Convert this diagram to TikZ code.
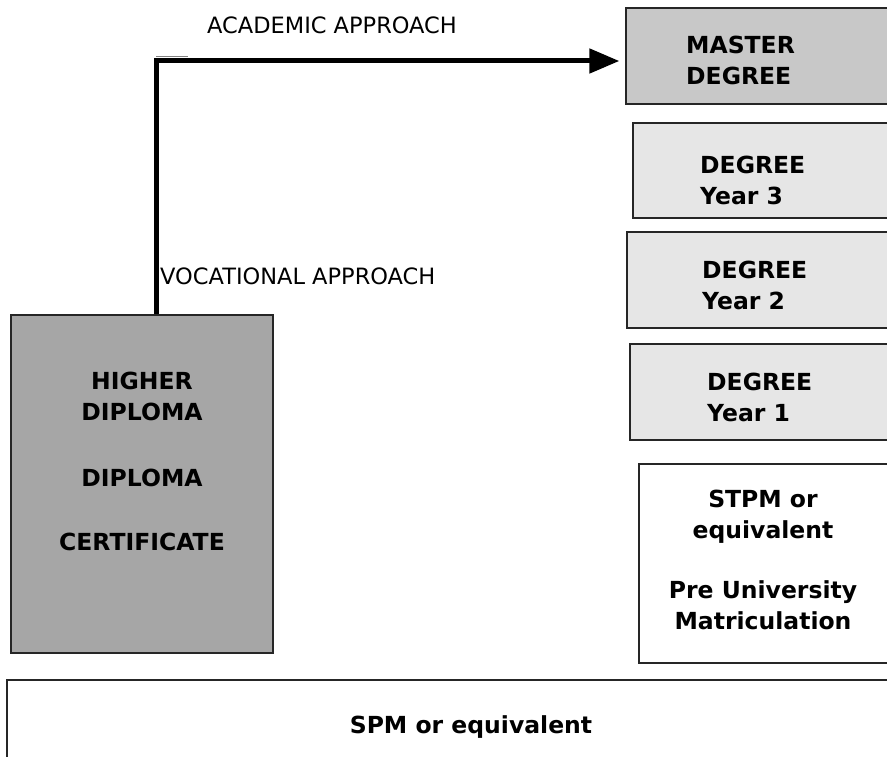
\documentclass[tikz,border=0pt]{standalone}
\usepackage{fontspec}
\setmainfont{DejaVu Sans}
\usetikzlibrary{arrows.meta}
\definecolor{masterfill}{HTML}{C8C8C8}
\definecolor{degreefill}{HTML}{E6E6E6}
\definecolor{diplomafill}{HTML}{A6A6A6}
\begin{document}
\begin{tikzpicture}[x=1pt,y=-1pt,
  box/.style={draw=black!85, line width=1.3pt, rectangle, inner sep=0pt},
  lbl/.style={font=\fontsize{23.5}{31}\selectfont\bfseries, inner sep=0pt},
  note/.style={font=\fontsize{22.5}{26}\selectfont, inner sep=0pt, anchor=west},
]
\useasboundingbox (0,0) rectangle (887,757);

% level boxes
\node[box, fill=masterfill, minimum width=274pt, minimum height=96pt] (master) at (763,56) {};
\node[box, fill=degreefill, minimum width=267pt, minimum height=95pt] (y3) at (766.5,170.5) {};
\node[box, fill=degreefill, minimum width=273pt, minimum height=96pt] (y2) at (763.5,280) {};
\node[box, fill=degreefill, minimum width=270pt, minimum height=96pt] (y1) at (765,392) {};
\node[box, fill=white, minimum width=261pt, minimum height=199pt] (stpm) at (769.5,563.5) {};
\node[box, fill=diplomafill, minimum width=262pt, minimum height=338pt] (hd) at (142,484) {};
\node[box, fill=white, minimum width=893pt, minimum height=90pt] (spm) at (453.5,725) {};

% box texts
\node[lbl, align=left, anchor=west] (tmaster) at (686,60) {MASTER\\DEGREE};
\node[lbl, align=left, anchor=west] (ty3) at (700,180) {DEGREE\\Year 3};
\node[lbl, align=left, anchor=west] (ty2) at (702,285.5) {DEGREE\\Year 2};
\node[lbl, align=left, anchor=west] (ty1) at (707,397.5) {DEGREE\\Year 1};
\node[lbl, align=center] (tstpm) at (763,560) {STPM or\\equivalent\\[29pt]Pre University\\Matriculation};
\node[lbl, align=center] (thd) at (142,461) {HIGHER\\DIPLOMA\\[35pt]DIPLOMA\\[33pt]CERTIFICATE};
\node[lbl] (tspm) at (471,727) {SPM or equivalent};

% route labels
\node[note] (acad) at (207,25) {ACADEMIC APPROACH};
\node[note] (voc) at (160,276) {VOCATIONAL APPROACH};

% progression arrow
\coordinate (turn) at (156,61);
\draw[line width=5pt, line join=miter, -{Triangle[length=30pt,width=24pt]}, shorten >=6pt]
  (hd.north -| turn) -- (turn) -- (turn -| master.west);
\coordinate (stubA) at (156,57);
\coordinate (stubB) at (188,57);
\draw[gray, line width=1pt] (stubA) -- (stubB);
\end{tikzpicture}
\end{document}
